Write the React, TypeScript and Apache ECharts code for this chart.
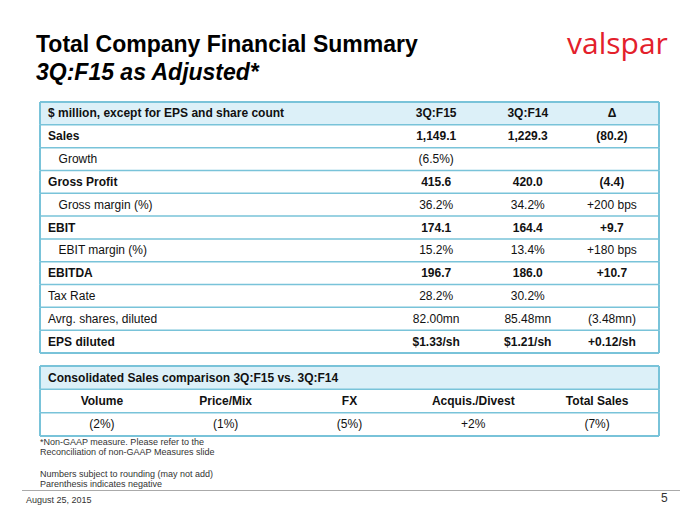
import React, { useEffect, useRef } from "react";
import * as echarts from "echarts";

const titleLine1 = "Total Company Financial Summary";
const titleLine2 = "3Q:F15 as Adjusted*";
const logoText = "valspar";

const headerLabels = ["$ million, except for EPS and share count", "3Q:F15", "3Q:F14", "Δ"];
const rowLabels = [
  "Sales",
  "Growth",
  "Gross Profit",
  "Gross margin (%)",
  "EBIT",
  "EBIT margin (%)",
  "EBITDA",
  "Tax Rate",
  "Avrg. shares, diluted",
  "EPS diluted",
];
const valuesF15 = ["1,149.1", "(6.5%)", "415.6", "36.2%", "174.1", "15.2%", "196.7", "28.2%", "82.00mn", "$1.33/sh"];
const valuesF14 = ["1,229.3", "", "420.0", "34.2%", "164.4", "13.4%", "186.0", "30.2%", "85.48mn", "$1.21/sh"];
const valuesDelta = ["(80.2)", "", "(4.4)", "+200 bps", "+9.7", "+180 bps", "+10.7", "", "(3.48mn)", "+0.12/sh"];
const rowBold = [true, false, true, false, true, false, true, false, false, true];
const rowIndent = [false, true, false, true, false, true, false, false, false, false];

const salesHeader = "Consolidated Sales comparison 3Q:F15 vs. 3Q:F14";
const salesCategories = ["Volume", "Price/Mix", "FX", "Acquis./Divest", "Total Sales"];
const salesValues = ["(2%)", "(1%)", "(5%)", "+2%", "(7%)"];

const footnotes = [
  "*Non-GAAP measure. Please refer to the",
  "Reconciliation of non-GAAP Measures slide",
  "",
  "Numbers subject to rounding (may not add)",
  "Parenthesis indicates negative",
];
const dateText = "August 25, 2015";
const pageNumber = "5";

const FONT = '"Liberation Sans", Arial, sans-serif';
const BORDER = "#79c3d9";
const HEADER_FILL = "#dcf0f8";

// column anchors as percent of table width
const t1Cols = [1.3, 64.0, 78.8, 92.4];
const t1Indent = 1.7;

function font(bold: boolean, size = 12) {
  return `${bold ? "bold " : ""}${size}px ${FONT}`;
}

function App() {
  const ref = useRef<HTMLDivElement>(null);
  useEffect(() => {
    if (!ref.current) return;
    const chart = echarts.init(ref.current, undefined, { renderer: "svg" });

    const t1Rows = ["header", ...rowLabels];
    const t2Rows = ["header", "categories", "values"];

    const frame = (api: any, i: number, n: number, fillHeader: boolean) => {
      const c = api.coord([0, i]);
      const right = api.coord([100, i])[0];
      const left = c[0];
      const h = api.size([0, 1])[1];
      const yc = c[1];
      const yt = yc - h / 2;
      const yb = yc + h / 2;
      const children: any[] = [];
      if (fillHeader && i === 0) {
        children.push({
          type: "rect",
          shape: { x: left, y: yt, width: right - left, height: h },
          style: { fill: HEADER_FILL },
        });
      }
      if (i === 0) {
        children.push({
          type: "line",
          shape: { x1: left, y1: yt, x2: right, y2: yt },
          style: { stroke: BORDER, lineWidth: 2 },
        });
      }
      children.push({
        type: "line",
        shape: { x1: left, y1: yb, x2: right, y2: yb },
        style: { stroke: BORDER, lineWidth: i === n - 1 ? 2 : 1.5 },
      });
      children.push({
        type: "line",
        shape: { x1: left, y1: yt, x2: left, y2: yb },
        style: { stroke: BORDER, lineWidth: 2 },
      });
      children.push({
        type: "line",
        shape: { x1: right, y1: yt, x2: right, y2: yb },
        style: { stroke: BORDER, lineWidth: 2 },
      });
      return { children, yc, left, right };
    };

    const option: any = {
      animation: false,
      grid: [
        { left: 40, right: 41, top: 102, height: 251 },
        { left: 40, right: 41, top: 366, height: 70 },
      ],
      xAxis: [
        { type: "value", min: 0, max: 100, show: false, gridIndex: 0 },
        { type: "value", min: 0, max: 100, show: false, gridIndex: 1 },
      ],
      yAxis: [
        { type: "category", data: t1Rows, inverse: true, show: false, gridIndex: 0 },
        { type: "category", data: t2Rows, inverse: true, show: false, gridIndex: 1 },
      ],
      series: [
        {
          type: "custom",
          coordinateSystem: "cartesian2d",
          xAxisIndex: 0,
          yAxisIndex: 0,
          data: t1Rows.map((_, i) => [0, i]),
          renderItem: (params: any, api: any) => {
            const i = api.value(1);
            const { children, yc, left, right } = frame(api, i, t1Rows.length, true);
            const w = right - left;
            const px = (p: number) => left + (w * p) / 100;
            let texts: string[];
            let bold: boolean;
            let indent = false;
            if (i === 0) {
              texts = headerLabels;
              bold = true;
            } else {
              const r = i - 1;
              texts = [rowLabels[r], valuesF15[r], valuesF14[r], valuesDelta[r]];
              bold = rowBold[r];
              indent = rowIndent[r];
            }
            texts.forEach((t, k) => {
              if (!t) return;
              children.push({
                type: "text",
                style: {
                  text: t,
                  x: k === 0 ? px(t1Cols[0] + (indent ? t1Indent : 0)) : px(t1Cols[k]),
                  y: yc,
                  align: k === 0 ? "left" : "center",
                  verticalAlign: "middle",
                  fill: "#111",
                  font: font(bold, 12),
                },
              });
            });
            return { type: "group", children };
          },
        },
        {
          type: "custom",
          coordinateSystem: "cartesian2d",
          xAxisIndex: 1,
          yAxisIndex: 1,
          data: t2Rows.map((_, i) => [0, i]),
          renderItem: (params: any, api: any) => {
            const i = api.value(1);
            const { children, yc, left, right } = frame(api, i, t2Rows.length, true);
            const w = right - left;
            if (i === 0) {
              children.push({
                type: "text",
                style: {
                  text: salesHeader,
                  x: left + (w * t1Cols[0]) / 100,
                  y: yc,
                  align: "left",
                  verticalAlign: "middle",
                  fill: "#111",
                  font: font(true, 12),
                },
              });
            } else {
              const list = i === 1 ? salesCategories : salesValues;
              list.forEach((t, k) => {
                children.push({
                  type: "text",
                  style: {
                    text: t,
                    x: left + (w * (k + 0.5)) / list.length,
                    y: yc,
                    align: "center",
                    verticalAlign: "middle",
                    fill: "#111",
                    font: font(i === 1, 12),
                  },
                });
              });
            }
            return { type: "group", children };
          },
        },
      ],
      graphic: [
        {
          type: "text",
          left: 36,
          top: 32,
          style: { text: titleLine1, fill: "#000", font: `bold 23px ${FONT}` },
        },
        {
          type: "text",
          left: 36,
          top: 60,
          style: { text: titleLine2, fill: "#000", font: `italic bold 23px ${FONT}` },
        },
        {
          type: "text",
          left: 567,
          top: 27,
          style: { text: logoText, fill: "#e3202b", font: `30px "Open Sans", sans-serif` },
        },
        ...footnotes.map((t, k) => ({
          type: "text",
          left: 40,
          top: 437 + k * 10.7,
          style: { text: t, fill: "#333", font: `9px ${FONT}` },
        })),
        {
          type: "line",
          shape: { x1: 22, y1: 490.5, x2: 680, y2: 490.5 },
          style: { stroke: "#aaa", lineWidth: 1 },
        },
        {
          type: "text",
          left: 26,
          top: 495,
          style: { text: dateText, fill: "#333", font: `9px ${FONT}` },
        },
        {
          type: "text",
          left: 661,
          top: 492,
          style: { text: pageNumber, fill: "#333", font: `12px ${FONT}` },
        },
      ],
    };
    chart.setOption(option);
    return () => chart.dispose();
  }, []);
  return <div ref={ref} style={{ width: 700, height: 525, position: "absolute", left: 0, top: 0, background: "#fff" }} />;
}

export default App;
